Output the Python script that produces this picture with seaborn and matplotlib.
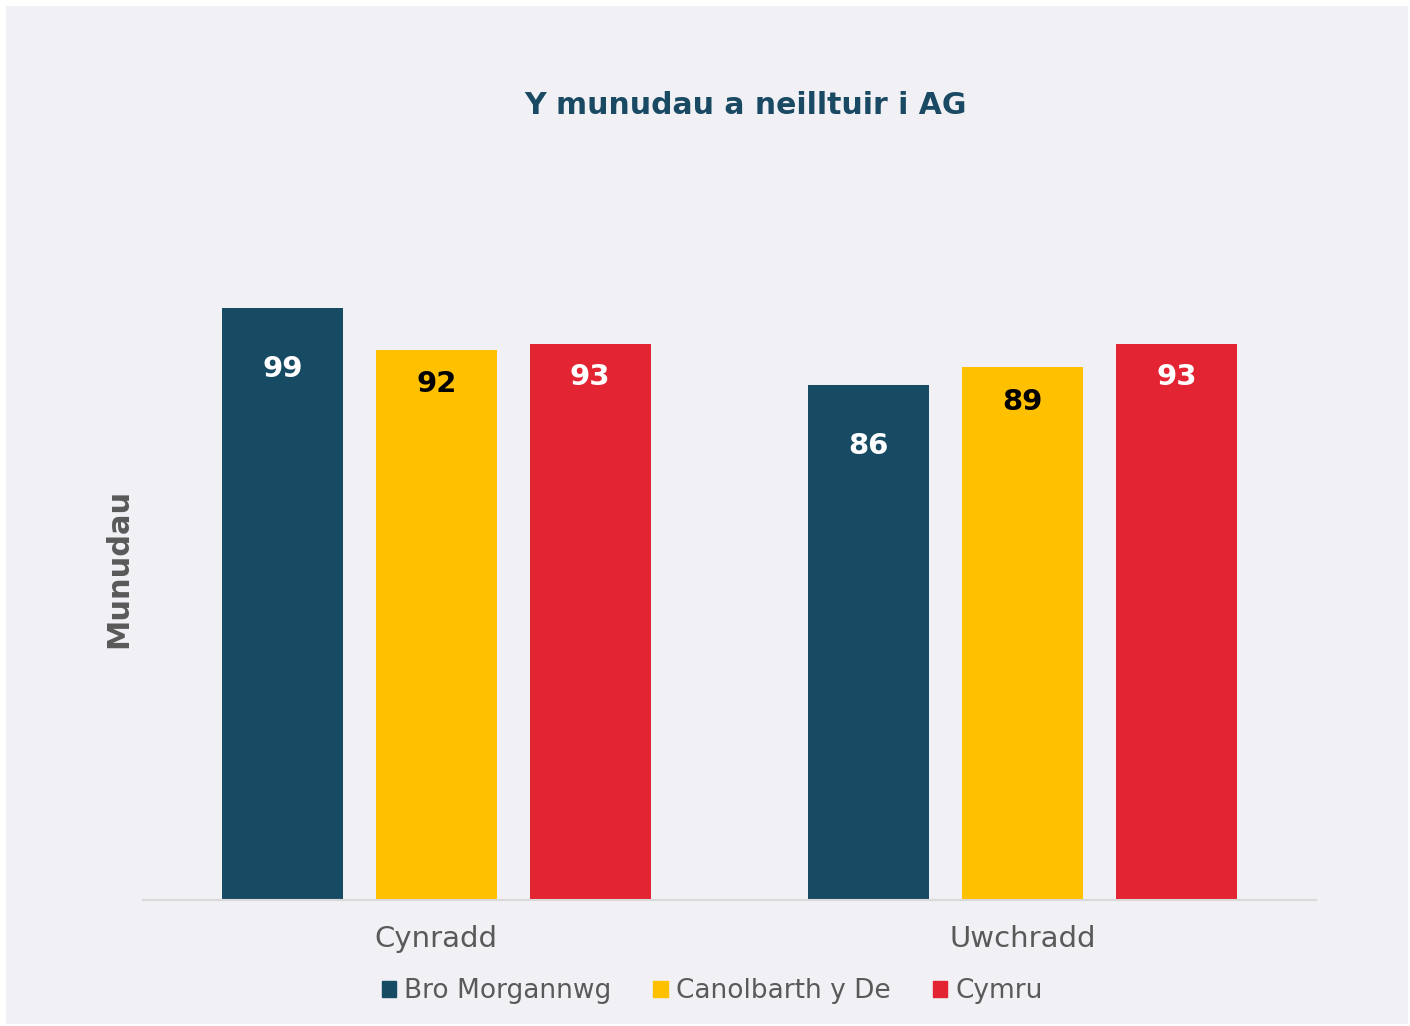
import seaborn as sns
import matplotlib.pyplot as plt
import matplotlib.patches as mpatches
import pandas as pd

# data
categories = ["Cynradd", "Uwchradd"]
series = ["Bro Morgannwg", "Canolbarth y De", "Cymru"]
bro_morgannwg = [99, 86]
canolbarth = [92, 89]
cymru = [93, 93]

colors = ["#174b63", "#ffc000", "#e32433"]
bg = "#f1f0f5"

rows = []
for name, vals in zip(series, [bro_morgannwg, canolbarth, cymru]):
    for cat, v in zip(categories, vals):
        rows.append({"cat": cat, "series": name, "val": v})
df = pd.DataFrame(rows)

sns.set_theme(style="white")
plt.rcParams['font.family'] = ['DejaVu Sans']

W, H = 1410, 1026
fig = plt.figure(figsize=(W / 100, H / 100), dpi=100, facecolor="white")
# grey panel with thin white margin
fig.patches.append(mpatches.Rectangle((6 / W, 2 / H), 1402 / W, 1018 / H,
                                      transform=fig.transFigure, facecolor=bg,
                                      edgecolor="none", zorder=-10))

ax = fig.add_axes([143 / W, 126 / H, 1173 / W, 718 / H])
ax.set_facecolor(bg)
ax.set_zorder(5)

sns.barplot(data=df, x="cat", y="val", hue="series", palette=colors,
            width=0.7875, gap=0.214, saturation=1, linewidth=0, ax=ax, legend=False)

ax.set_ylim(0, 120)
ax.set_xlim(-0.5, 1.5)
ax.set_yticks([])
for s in ["top", "right", "left"]:
    ax.spines[s].set_visible(False)
ax.spines["bottom"].set_color("#d9d9d9")
ax.spines["bottom"].set_linewidth(1.5)

ax.tick_params(axis="x", length=0, pad=18, labelsize=21, labelcolor="#595959")
ax.set_xlabel("")
ax.set_ylabel("Munudau", fontsize=22, fontweight="bold", color="#595959")
ax.yaxis.set_label_coords(-0.008, 0.462)

# value labels inside the bars
label_colors = ["white", "black", "white"]
offsets = [-54, -35, -34]
for cont, lc, off in zip(ax.containers, label_colors, offsets):
    ax.bar_label(cont, labels=[f"{int(v)}" for v in cont.datavalues], padding=off,
                 color=lc, fontsize=21, fontweight="bold", label_type="edge")

fig.text(746 / W, 1 - 105 / H, "Y munudau a neilltuir i AG", ha="center", va="center",
         fontsize=21.5, fontweight="bold", color="#1a4a63")

handles = [mpatches.Patch(color=c, label=s) for c, s in zip(colors, series)]
fig.legend(handles=handles, loc="center", bbox_to_anchor=(712 / W, 1 - 991 / H), ncol=3,
           frameon=False, fontsize=19, handlelength=0.55, handleheight=0.55,
           handletextpad=0.3, columnspacing=1.6, labelcolor="#595959")

fig.savefig("out.png", dpi=100, facecolor="white")
